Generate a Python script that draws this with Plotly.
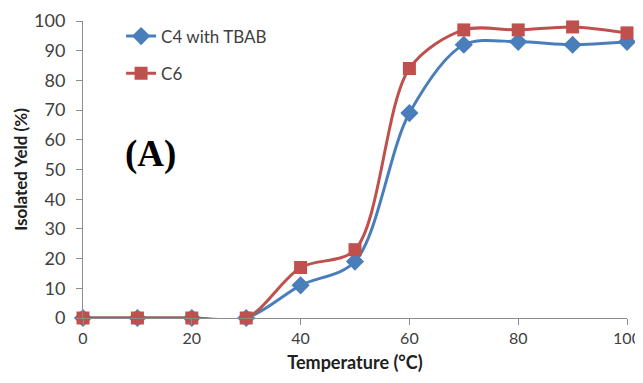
import plotly.graph_objects as go

temperature = [0, 10, 20, 30, 40, 50, 60, 70, 80, 90, 100]
c4_tbab = [0, 0, 0, 0, 11, 19, 69, 92, 93, 92, 93]
c6 = [0, 0, 0, 0, 17, 23, 84, 97, 97, 98, 96]

blue = "#4A7EBB"
red = "#C0504D"
font = "Lato"

fig = go.Figure()
fig.add_trace(go.Scatter(
    x=temperature, y=c4_tbab, name="C4 with TBAB", mode="lines+markers",
    line=dict(color=blue, width=3, shape="spline", smoothing=0.9),
    marker=dict(symbol="diamond", size=14, color=blue),
    cliponaxis=False, legendgroup="a"))
fig.add_trace(go.Scatter(
    x=temperature, y=c6, name="C6", mode="lines+markers",
    line=dict(color=red, width=3, shape="spline", smoothing=0.9),
    marker=dict(symbol="square", size=13, color=red),
    cliponaxis=False, legendgroup="b"))

# page body has an 8px margin, so the figure is sized to fit inside it
fig.update_layout(
    width=635, height=367,
    margin=dict(l=75, r=16, t=12, b=57),
    paper_bgcolor="white", plot_bgcolor="white",
    font=dict(family=font, size=18, color="#404040"),
    legend=dict(x=0.07, y=1.005, xanchor="left", yanchor="top",
                font=dict(size=17, color="#404040"),
                traceorder="grouped", tracegroupgap=12,
                bgcolor="rgba(0,0,0,0)"),
    xaxis=dict(range=[0, 100], tickvals=[0, 20, 40, 60, 80, 100],
               showgrid=False, zeroline=False, showline=True, automargin=False,
               linecolor="#8C8C8C", linewidth=1, ticks="outside",
               ticklen=6, tickcolor="#8C8C8C", tickfont=dict(size=16),
               title=dict(text="<b>Temperature (°C)</b>",
                          font=dict(size=18, color="#202020"), standoff=10)),
    yaxis=dict(range=[0, 100], tickvals=list(range(0, 101, 10)),
               showgrid=False, zeroline=False, showline=True, automargin=False,
               linecolor="#8C8C8C", linewidth=1, ticks="outside",
               ticklen=6, tickcolor="#8C8C8C", tickfont=dict(size=18),
               ticklabelstandoff=7,
               title=dict(text="<b>Isolated Yeld (%)</b>",
                          font=dict(size=17, color="#202020"), standoff=2)),
    annotations=[dict(text="<b>(A)</b>", x=(123 - 83) / 544, y=(318 - 153) / 298,
                      xref="paper", yref="paper",
                      xanchor="left", yanchor="middle", showarrow=False,
                      font=dict(family="Liberation Serif", size=37, color="black"))],
)

fig.write_html("out.html")
